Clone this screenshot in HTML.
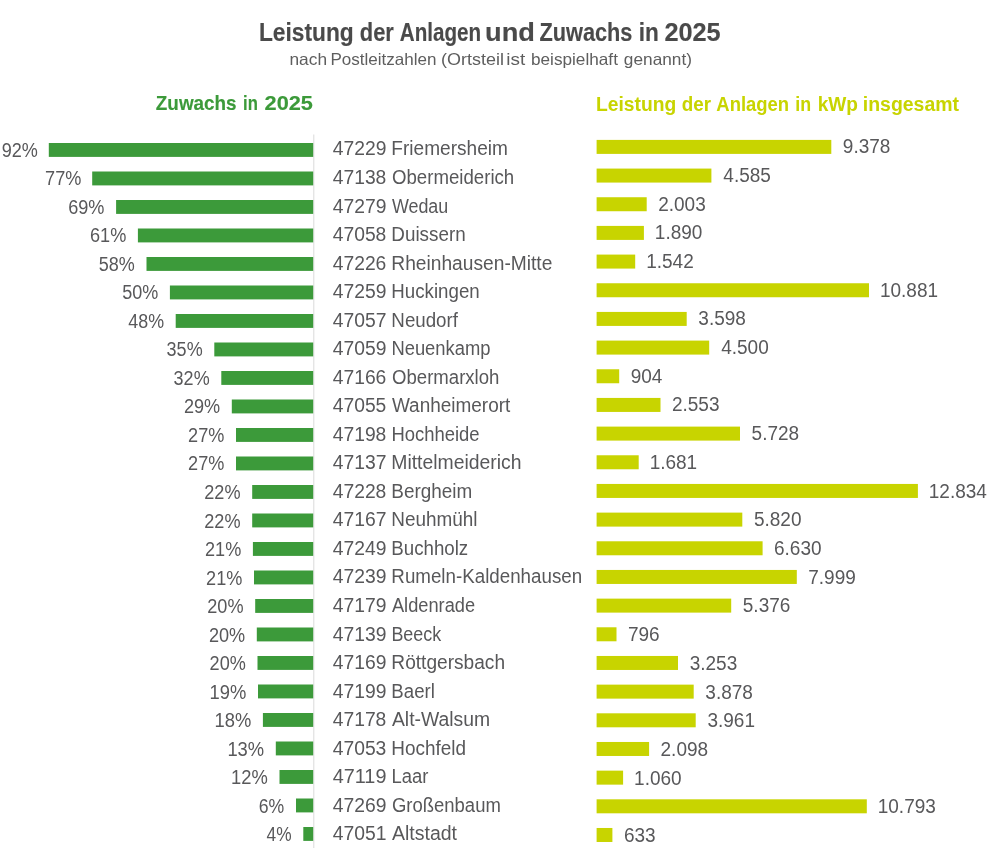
<!DOCTYPE html>
<html lang="de">
<head>
<meta charset="utf-8">
<title>Leistung der Anlagen und Zuwachs in 2025</title>
<style>
html,body{margin:0;padding:0;background:#fff;}
body{width:998px;height:855px;overflow:hidden;}
svg{display:block;}
text{font-family:"Liberation Sans",sans-serif;}
.t{font-weight:bold;fill:#4a4a4a;stroke:#4a4a4a;stroke-width:0.15px;}
.s{fill:#5e5e5e;}
.p,.m,.v{fill:#58585a;}
.p{font-size:19.5px;}
.m{font-size:19.4px;}
.v{font-size:19.5px;}
.hg{font-weight:bold;fill:#3c9a3a;stroke:#3c9a3a;stroke-width:0.15px;}
.hl{font-weight:bold;fill:#c8d400;}
</style>
</head>
<body>
<svg width="998" height="855" viewBox="0 0 998 855">
<rect x="0" y="0" width="998" height="855" fill="#ffffff"/>

<text class="t" y="41.10" font-size="25.5"><tspan x="258.98" textLength="94.74" lengthAdjust="spacingAndGlyphs">Leistung</tspan> <tspan x="359.80" textLength="34.03" lengthAdjust="spacingAndGlyphs">der</tspan> <tspan x="399.79" textLength="81.29" lengthAdjust="spacingAndGlyphs">Anlagen</tspan> <tspan x="485.11" textLength="49.88" lengthAdjust="spacingAndGlyphs">und</tspan> <tspan x="539.45" textLength="93.04" lengthAdjust="spacingAndGlyphs">Zuwachs</tspan> <tspan x="638.72" textLength="20.08" lengthAdjust="spacingAndGlyphs">in</tspan> <tspan x="664.42" textLength="56.28" lengthAdjust="spacingAndGlyphs">2025</tspan></text>
<text class="s" y="64.80" font-size="16.5"><tspan x="289.45" textLength="37.58" lengthAdjust="spacingAndGlyphs">nach</tspan> <tspan x="330.40" textLength="106.10" lengthAdjust="spacingAndGlyphs">Postleitzahlen</tspan> <tspan x="441.09" textLength="62.81" lengthAdjust="spacingAndGlyphs">(Ortsteil</tspan> <tspan x="506.34" textLength="18.90" lengthAdjust="spacingAndGlyphs">ist</tspan> <tspan x="530.99" textLength="86.93" lengthAdjust="spacingAndGlyphs">beispielhaft</tspan> <tspan x="623.88" textLength="68.09" lengthAdjust="spacingAndGlyphs">genannt)</tspan></text>
<text class="hg" y="109.50" font-size="19.7"><tspan x="155.84" textLength="80.74" lengthAdjust="spacingAndGlyphs">Zuwachs</tspan> <tspan x="243.04" textLength="14.79" lengthAdjust="spacingAndGlyphs">in</tspan> <tspan x="264.55" textLength="48.36" lengthAdjust="spacingAndGlyphs">2025</tspan></text>
<text class="hl" y="111.10" font-size="20"><tspan x="596.01" textLength="80.17" lengthAdjust="spacingAndGlyphs">Leistung</tspan> <tspan x="681.83" textLength="29.26" lengthAdjust="spacingAndGlyphs">der</tspan> <tspan x="716.34" textLength="72.80" lengthAdjust="spacingAndGlyphs">Anlagen</tspan> <tspan x="795.25" textLength="15.85" lengthAdjust="spacingAndGlyphs">in</tspan> <tspan x="817.67" textLength="40.32" lengthAdjust="spacingAndGlyphs">kWp</tspan> <tspan x="862.84" textLength="96.20" lengthAdjust="spacingAndGlyphs">insgesamt</tspan></text>
<rect x="313.3" y="134.5" width="1" height="713.5" fill="#dadada"/>
<rect x="48.8" y="143.00" width="264.4" height="13.9" fill="#3c9a3a"/>
<text class="p" x="1.75" y="156.65" textLength="36.19" lengthAdjust="spacingAndGlyphs">92%</text>
<text class="m" y="155.45"><tspan x="332.76" textLength="53.66" lengthAdjust="spacingAndGlyphs">47229</tspan> <tspan x="391.34" textLength="116.52" lengthAdjust="spacingAndGlyphs">Friemersheim</tspan></text>
<rect x="596.6" y="139.90" width="234.7" height="14" fill="#c8d400"/>
<text class="v" x="842.85" y="153.10" textLength="47.58" lengthAdjust="spacingAndGlyphs">9.378</text>
<rect x="92.2" y="171.50" width="221.0" height="13.9" fill="#3c9a3a"/>
<text class="p" x="45.07" y="185.18" textLength="36.28" lengthAdjust="spacingAndGlyphs">77%</text>
<text class="m" y="183.98"><tspan x="332.76" textLength="53.58" lengthAdjust="spacingAndGlyphs">47138</tspan> <tspan x="392.02" textLength="122.19" lengthAdjust="spacingAndGlyphs">Obermeiderich</tspan></text>
<rect x="596.6" y="168.57" width="114.8" height="14" fill="#c8d400"/>
<text class="v" x="723.33" y="181.81" textLength="47.58" lengthAdjust="spacingAndGlyphs">4.585</text>
<rect x="116.1" y="200.00" width="197.1" height="13.9" fill="#3c9a3a"/>
<text class="p" x="68.18" y="213.71" textLength="36.27" lengthAdjust="spacingAndGlyphs">69%</text>
<text class="m" y="212.52"><tspan x="332.76" textLength="53.66" lengthAdjust="spacingAndGlyphs">47279</tspan> <tspan x="391.92" textLength="56.36" lengthAdjust="spacingAndGlyphs">Wedau</tspan></text>
<rect x="596.6" y="197.24" width="50.1" height="14" fill="#c8d400"/>
<text class="v" x="658.18" y="210.52" textLength="47.58" lengthAdjust="spacingAndGlyphs">2.003</text>
<rect x="137.9" y="228.50" width="175.3" height="13.9" fill="#3c9a3a"/>
<text class="p" x="89.98" y="242.24" textLength="36.27" lengthAdjust="spacingAndGlyphs">61%</text>
<text class="m" y="241.06"><tspan x="332.76" textLength="53.58" lengthAdjust="spacingAndGlyphs">47058</tspan> <tspan x="391.35" textLength="74.37" lengthAdjust="spacingAndGlyphs">Duissern</tspan></text>
<rect x="596.6" y="225.91" width="47.3" height="14" fill="#c8d400"/>
<text class="v" x="654.86" y="239.23" textLength="47.58" lengthAdjust="spacingAndGlyphs">1.890</text>
<rect x="146.5" y="257.00" width="166.7" height="13.9" fill="#3c9a3a"/>
<text class="p" x="98.78" y="270.77" textLength="36.06" lengthAdjust="spacingAndGlyphs">58%</text>
<text class="m" y="269.59"><tspan x="332.76" textLength="53.59" lengthAdjust="spacingAndGlyphs">47226</tspan> <tspan x="391.33" textLength="161.03" lengthAdjust="spacingAndGlyphs">Rheinhausen-Mitte</tspan></text>
<rect x="596.6" y="254.58" width="38.6" height="14" fill="#c8d400"/>
<text class="v" x="646.15" y="267.94" textLength="47.58" lengthAdjust="spacingAndGlyphs">1.542</text>
<rect x="169.9" y="285.50" width="143.3" height="13.9" fill="#3c9a3a"/>
<text class="p" x="122.18" y="299.30" textLength="36.06" lengthAdjust="spacingAndGlyphs">50%</text>
<text class="m" y="298.12"><tspan x="332.76" textLength="53.66" lengthAdjust="spacingAndGlyphs">47259</tspan> <tspan x="391.37" textLength="88.35" lengthAdjust="spacingAndGlyphs">Huckingen</tspan></text>
<rect x="596.6" y="283.25" width="272.4" height="14" fill="#c8d400"/>
<text class="v" x="879.92" y="296.65" textLength="58.15" lengthAdjust="spacingAndGlyphs">10.881</text>
<rect x="175.7" y="314.00" width="137.5" height="13.9" fill="#3c9a3a"/>
<text class="p" x="128.29" y="327.83" textLength="35.75" lengthAdjust="spacingAndGlyphs">48%</text>
<text class="m" y="326.66"><tspan x="332.76" textLength="53.71" lengthAdjust="spacingAndGlyphs">47057</tspan> <tspan x="391.36" textLength="66.61" lengthAdjust="spacingAndGlyphs">Neudorf</tspan></text>
<rect x="596.6" y="311.92" width="90.1" height="14" fill="#c8d400"/>
<text class="v" x="698.34" y="325.36" textLength="47.58" lengthAdjust="spacingAndGlyphs">3.598</text>
<rect x="214.3" y="342.50" width="98.9" height="13.9" fill="#3c9a3a"/>
<text class="p" x="166.61" y="356.36" textLength="36.03" lengthAdjust="spacingAndGlyphs">35%</text>
<text class="m" y="355.19"><tspan x="332.76" textLength="53.66" lengthAdjust="spacingAndGlyphs">47059</tspan> <tspan x="391.39" textLength="99.18" lengthAdjust="spacingAndGlyphs">Neuenkamp</tspan></text>
<rect x="596.6" y="340.59" width="112.6" height="14" fill="#c8d400"/>
<text class="v" x="721.20" y="354.07" textLength="47.58" lengthAdjust="spacingAndGlyphs">4.500</text>
<rect x="221.3" y="371.00" width="91.9" height="13.9" fill="#3c9a3a"/>
<text class="p" x="173.61" y="384.89" textLength="36.03" lengthAdjust="spacingAndGlyphs">32%</text>
<text class="m" y="383.73"><tspan x="332.76" textLength="53.59" lengthAdjust="spacingAndGlyphs">47166</tspan> <tspan x="392.02" textLength="107.39" lengthAdjust="spacingAndGlyphs">Obermarxloh</tspan></text>
<rect x="596.6" y="369.26" width="22.6" height="14" fill="#c8d400"/>
<text class="v" x="630.74" y="382.78" textLength="31.72" lengthAdjust="spacingAndGlyphs">904</text>
<rect x="231.8" y="399.50" width="81.4" height="13.9" fill="#3c9a3a"/>
<text class="p" x="183.89" y="413.42" textLength="36.26" lengthAdjust="spacingAndGlyphs">29%</text>
<text class="m" y="412.26"><tspan x="332.76" textLength="53.55" lengthAdjust="spacingAndGlyphs">47055</tspan> <tspan x="391.92" textLength="118.42" lengthAdjust="spacingAndGlyphs">Wanheimerort</tspan></text>
<rect x="596.6" y="397.93" width="63.9" height="14" fill="#c8d400"/>
<text class="v" x="671.95" y="411.49" textLength="47.58" lengthAdjust="spacingAndGlyphs">2.553</text>
<rect x="236.0" y="428.00" width="77.2" height="13.9" fill="#3c9a3a"/>
<text class="p" x="188.09" y="441.95" textLength="36.26" lengthAdjust="spacingAndGlyphs">27%</text>
<text class="m" y="440.80"><tspan x="332.76" textLength="53.58" lengthAdjust="spacingAndGlyphs">47198</tspan> <tspan x="391.39" textLength="88.23" lengthAdjust="spacingAndGlyphs">Hochheide</tspan></text>
<rect x="596.6" y="426.60" width="143.4" height="14" fill="#c8d400"/>
<text class="v" x="751.62" y="440.20" textLength="47.58" lengthAdjust="spacingAndGlyphs">5.728</text>
<rect x="236.0" y="456.50" width="77.2" height="13.9" fill="#3c9a3a"/>
<text class="p" x="188.09" y="470.48" textLength="36.26" lengthAdjust="spacingAndGlyphs">27%</text>
<text class="m" y="469.33"><tspan x="332.76" textLength="53.71" lengthAdjust="spacingAndGlyphs">47137</tspan> <tspan x="391.31" textLength="130.25" lengthAdjust="spacingAndGlyphs">Mittelmeiderich</tspan></text>
<rect x="596.6" y="455.27" width="42.1" height="14" fill="#c8d400"/>
<text class="v" x="649.63" y="468.91" textLength="47.58" lengthAdjust="spacingAndGlyphs">1.681</text>
<rect x="252.2" y="485.00" width="61.0" height="13.9" fill="#3c9a3a"/>
<text class="p" x="204.29" y="499.01" textLength="36.26" lengthAdjust="spacingAndGlyphs">22%</text>
<text class="m" y="497.87"><tspan x="332.76" textLength="53.58" lengthAdjust="spacingAndGlyphs">47228</tspan> <tspan x="391.35" textLength="80.90" lengthAdjust="spacingAndGlyphs">Bergheim</tspan></text>
<rect x="596.6" y="483.94" width="321.3" height="14" fill="#c8d400"/>
<text class="v" x="928.80" y="497.62" textLength="58.15" lengthAdjust="spacingAndGlyphs">12.834</text>
<rect x="252.2" y="513.50" width="61.0" height="13.9" fill="#3c9a3a"/>
<text class="p" x="204.29" y="527.54" textLength="36.26" lengthAdjust="spacingAndGlyphs">22%</text>
<text class="m" y="526.40"><tspan x="332.76" textLength="53.71" lengthAdjust="spacingAndGlyphs">47167</tspan> <tspan x="391.35" textLength="86.22" lengthAdjust="spacingAndGlyphs">Neuhmühl</tspan></text>
<rect x="596.6" y="512.61" width="145.7" height="14" fill="#c8d400"/>
<text class="v" x="753.92" y="526.33" textLength="47.58" lengthAdjust="spacingAndGlyphs">5.820</text>
<rect x="252.9" y="542.00" width="60.3" height="13.9" fill="#3c9a3a"/>
<text class="p" x="204.99" y="556.07" textLength="36.26" lengthAdjust="spacingAndGlyphs">21%</text>
<text class="m" y="554.94"><tspan x="332.76" textLength="53.66" lengthAdjust="spacingAndGlyphs">47249</tspan> <tspan x="391.37" textLength="76.86" lengthAdjust="spacingAndGlyphs">Buchholz</tspan></text>
<rect x="596.6" y="541.28" width="166.0" height="14" fill="#c8d400"/>
<text class="v" x="773.99" y="555.04" textLength="47.58" lengthAdjust="spacingAndGlyphs">6.630</text>
<rect x="254.0" y="570.50" width="59.2" height="13.9" fill="#3c9a3a"/>
<text class="p" x="206.09" y="584.60" textLength="36.26" lengthAdjust="spacingAndGlyphs">21%</text>
<text class="m" y="583.47"><tspan x="332.76" textLength="53.66" lengthAdjust="spacingAndGlyphs">47239</tspan> <tspan x="391.36" textLength="190.76" lengthAdjust="spacingAndGlyphs">Rumeln-Kaldenhausen</tspan></text>
<rect x="596.6" y="569.95" width="200.2" height="14" fill="#c8d400"/>
<text class="v" x="808.25" y="583.75" textLength="47.58" lengthAdjust="spacingAndGlyphs">7.999</text>
<rect x="255.2" y="599.00" width="58.0" height="13.9" fill="#3c9a3a"/>
<text class="p" x="207.29" y="613.13" textLength="36.26" lengthAdjust="spacingAndGlyphs">20%</text>
<text class="m" y="612.01"><tspan x="332.76" textLength="53.66" lengthAdjust="spacingAndGlyphs">47179</tspan> <tspan x="391.96" textLength="83.15" lengthAdjust="spacingAndGlyphs">Aldenrade</tspan></text>
<rect x="596.6" y="598.62" width="134.6" height="14" fill="#c8d400"/>
<text class="v" x="742.81" y="612.46" textLength="47.58" lengthAdjust="spacingAndGlyphs">5.376</text>
<rect x="256.8" y="627.50" width="56.4" height="13.9" fill="#3c9a3a"/>
<text class="p" x="208.89" y="641.66" textLength="36.26" lengthAdjust="spacingAndGlyphs">20%</text>
<text class="m" y="640.55"><tspan x="332.76" textLength="53.66" lengthAdjust="spacingAndGlyphs">47139</tspan> <tspan x="391.43" textLength="49.74" lengthAdjust="spacingAndGlyphs">Beeck</tspan></text>
<rect x="596.6" y="627.29" width="19.9" height="14" fill="#c8d400"/>
<text class="v" x="627.95" y="641.17" textLength="31.72" lengthAdjust="spacingAndGlyphs">796</text>
<rect x="257.5" y="656.00" width="55.7" height="13.9" fill="#3c9a3a"/>
<text class="p" x="209.59" y="670.19" textLength="36.26" lengthAdjust="spacingAndGlyphs">20%</text>
<text class="m" y="669.08"><tspan x="332.76" textLength="53.66" lengthAdjust="spacingAndGlyphs">47169</tspan> <tspan x="391.33" textLength="113.71" lengthAdjust="spacingAndGlyphs">Röttgersbach</tspan></text>
<rect x="596.6" y="655.96" width="81.4" height="14" fill="#c8d400"/>
<text class="v" x="689.70" y="669.88" textLength="47.58" lengthAdjust="spacingAndGlyphs">3.253</text>
<rect x="258.0" y="684.50" width="55.2" height="13.9" fill="#3c9a3a"/>
<text class="p" x="209.60" y="698.72" textLength="36.75" lengthAdjust="spacingAndGlyphs">19%</text>
<text class="m" y="697.62"><tspan x="332.76" textLength="53.66" lengthAdjust="spacingAndGlyphs">47199</tspan> <tspan x="391.37" textLength="43.47" lengthAdjust="spacingAndGlyphs">Baerl</tspan></text>
<rect x="596.6" y="684.63" width="97.1" height="14" fill="#c8d400"/>
<text class="v" x="705.35" y="698.59" textLength="47.58" lengthAdjust="spacingAndGlyphs">3.878</text>
<rect x="262.9" y="713.00" width="50.3" height="13.9" fill="#3c9a3a"/>
<text class="p" x="214.50" y="727.25" textLength="36.75" lengthAdjust="spacingAndGlyphs">18%</text>
<text class="m" y="726.15"><tspan x="332.76" textLength="53.58" lengthAdjust="spacingAndGlyphs">47178</tspan> <tspan x="391.96" textLength="98.20" lengthAdjust="spacingAndGlyphs">Alt-Walsum</tspan></text>
<rect x="596.6" y="713.30" width="99.1" height="14" fill="#c8d400"/>
<text class="v" x="707.42" y="727.30" textLength="47.58" lengthAdjust="spacingAndGlyphs">3.961</text>
<rect x="275.8" y="741.50" width="37.4" height="13.9" fill="#3c9a3a"/>
<text class="p" x="227.40" y="755.78" textLength="36.75" lengthAdjust="spacingAndGlyphs">13%</text>
<text class="m" y="754.68"><tspan x="332.76" textLength="53.59" lengthAdjust="spacingAndGlyphs">47053</tspan> <tspan x="391.35" textLength="74.67" lengthAdjust="spacingAndGlyphs">Hochfeld</tspan></text>
<rect x="596.6" y="741.97" width="52.5" height="14" fill="#c8d400"/>
<text class="v" x="660.56" y="756.01" textLength="47.58" lengthAdjust="spacingAndGlyphs">2.098</text>
<rect x="279.5" y="770.00" width="33.7" height="13.9" fill="#3c9a3a"/>
<text class="p" x="231.10" y="784.31" textLength="36.75" lengthAdjust="spacingAndGlyphs">12%</text>
<text class="m" y="783.22"><tspan x="332.76" textLength="53.66" lengthAdjust="spacingAndGlyphs">47119</tspan> <tspan x="391.39" textLength="36.92" lengthAdjust="spacingAndGlyphs">Laar</tspan></text>
<rect x="596.6" y="770.64" width="26.5" height="14" fill="#c8d400"/>
<text class="v" x="634.08" y="784.72" textLength="47.58" lengthAdjust="spacingAndGlyphs">1.060</text>
<rect x="296.0" y="798.50" width="17.2" height="13.9" fill="#3c9a3a"/>
<text class="p" x="258.80" y="812.84" textLength="25.53" lengthAdjust="spacingAndGlyphs">6%</text>
<text class="m" y="811.75"><tspan x="332.76" textLength="53.66" lengthAdjust="spacingAndGlyphs">47269</tspan> <tspan x="391.97" textLength="108.85" lengthAdjust="spacingAndGlyphs">Großenbaum</tspan></text>
<rect x="596.6" y="799.31" width="270.2" height="14" fill="#c8d400"/>
<text class="v" x="877.71" y="813.43" textLength="58.15" lengthAdjust="spacingAndGlyphs">10.793</text>
<rect x="303.3" y="827.00" width="9.9" height="13.9" fill="#3c9a3a"/>
<text class="p" x="266.60" y="841.37" textLength="25.01" lengthAdjust="spacingAndGlyphs">4%</text>
<text class="m" y="840.29"><tspan x="332.76" textLength="53.69" lengthAdjust="spacingAndGlyphs">47051</tspan> <tspan x="391.96" textLength="65.08" lengthAdjust="spacingAndGlyphs">Altstadt</tspan></text>
<rect x="596.6" y="827.98" width="15.8" height="14" fill="#c8d400"/>
<text class="v" x="623.88" y="842.14" textLength="31.72" lengthAdjust="spacingAndGlyphs">633</text>
</svg>
</body>
</html>
